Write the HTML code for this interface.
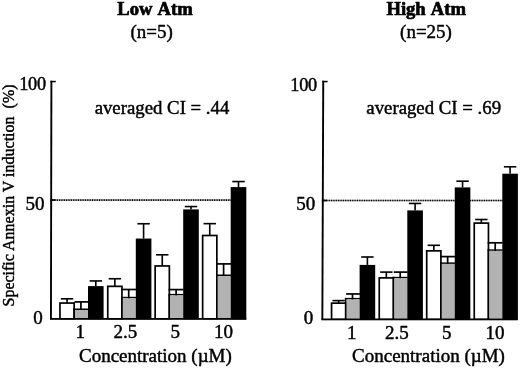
<!DOCTYPE html>
<html lang="en"><head><meta charset="utf-8"><title>Annexin V induction</title>
<style>html,body{margin:0;padding:0;background:#fff}body{width:520px;height:368px;overflow:hidden}svg{display:block}</style>
</head><body>
<svg width="520" height="368" viewBox="0 0 520 368">
<rect width="520" height="368" fill="#fff"/>
<g font-family="'Liberation Serif', serif" fill="#000" stroke="#000" stroke-width="0.45" stroke-linejoin="round">
<text x="155" y="14.7" font-size="18.6" font-weight="bold" word-spacing="1.5" stroke-width="0.7" text-anchor="middle">Low Atm</text>
<text x="151.7" y="37.8" font-size="19" text-anchor="middle">(n=5)</text>
<text x="426.2" y="14.7" font-size="18.6" font-weight="bold" word-spacing="1.5" stroke-width="0.7" text-anchor="middle">High Atm</text>
<text x="426" y="37.8" font-size="19" text-anchor="middle">(n=25)</text>
<text x="162" y="114" font-size="18.8" text-anchor="middle">averaged CI = .44</text>
<text x="433.7" y="114" font-size="18.8" text-anchor="middle">averaged CI = .69</text>
<text x="45.75" y="90.4" font-size="18.3" letter-spacing="-0.3" text-anchor="end">100</text>
<text x="316.9" y="90.6" font-size="18.3" letter-spacing="-0.3" text-anchor="end">100</text>
<text x="44.5" y="209.8" font-size="19" text-anchor="end">50</text>
<text x="315.3" y="210.1" font-size="19" text-anchor="end">50</text>
<text x="42.8" y="323.5" font-size="19" text-anchor="end">0</text>
<text x="313.3" y="323.5" font-size="19" text-anchor="end">0</text>
<text x="80.3" y="338" font-size="19" text-anchor="middle">1</text>
<text x="125.25" y="338" font-size="19" text-anchor="middle">2.5</text>
<text x="175.25" y="338" font-size="19" text-anchor="middle">5</text>
<text x="223.5" y="338" font-size="19" text-anchor="middle">10</text>
<text x="155.4" y="361.7" font-size="19" text-anchor="middle">Concentration (µM)</text>
<text x="351.8" y="338.55" font-size="19" text-anchor="middle">1</text>
<text x="396.75" y="338.55" font-size="19" text-anchor="middle">2.5</text>
<text x="446.75" y="338.55" font-size="19" text-anchor="middle">5</text>
<text x="495.0" y="338.55" font-size="19" text-anchor="middle">10</text>
<text x="428.5" y="362.25" font-size="19" text-anchor="middle">Concentration (µM)</text>
<text transform="translate(14.2 306.5) rotate(-90)" font-size="16">Specific Annexin V induction&#160; (%)</text>
</g>
<path d="M52 200.05H231" stroke="#9a9a9a" stroke-width="1.5" fill="none"/>
<path d="M52 200.05H231" stroke="#000" stroke-width="1.7" stroke-dasharray="1.15 1.2" fill="none"/>
<path d="M324 200.5H503" stroke="#9a9a9a" stroke-width="1.5" fill="none"/>
<path d="M324 200.5H503" stroke="#000" stroke-width="1.7" stroke-dasharray="1.15 1.2" fill="none"/>
<rect x="59.10" y="302.20" width="15.90" height="17.10" fill="#000"/>
<rect x="60.80" y="303.90" width="12.50" height="14.30" fill="#fff"/>
<rect x="66.25" y="298.80" width="1.60" height="4.25" fill="#000"/><rect x="60.85" y="298.00" width="12.40" height="1.60" fill="#000"/>
<rect x="73.30" y="308.50" width="1.70" height="10.80" fill="#000"/>
<rect x="73.30" y="308.50" width="15.00" height="1.50" fill="#000"/>
<rect x="75.00" y="310.00" width="13.00" height="8.20" fill="#b2b2b2"/>
<rect x="80.05" y="301.90" width="1.70" height="8.10" fill="#000"/>
<rect x="74.49" y="301.05" width="13.81" height="1.70" fill="#000"/>
<rect x="88.00" y="286.10" width="15.60" height="33.20" fill="#000"/>
<rect x="95.00" y="280.95" width="1.60" height="5.15" fill="#000"/><rect x="89.60" y="280.15" width="12.40" height="1.60" fill="#000"/>
<rect x="106.90" y="285.50" width="15.90" height="33.80" fill="#000"/>
<rect x="108.60" y="287.20" width="12.50" height="31.00" fill="#fff"/>
<rect x="114.05" y="278.75" width="1.60" height="7.60" fill="#000"/><rect x="108.65" y="277.95" width="12.40" height="1.60" fill="#000"/>
<rect x="121.10" y="296.80" width="1.70" height="22.50" fill="#000"/>
<rect x="121.10" y="296.80" width="15.00" height="1.50" fill="#000"/>
<rect x="122.80" y="298.30" width="13.00" height="19.90" fill="#b2b2b2"/>
<rect x="127.85" y="289.50" width="1.70" height="8.80" fill="#000"/>
<rect x="121.10" y="288.65" width="15.00" height="1.70" fill="#000"/>
<rect x="135.80" y="238.55" width="15.60" height="80.75" fill="#000"/>
<rect x="142.80" y="223.75" width="1.60" height="14.80" fill="#000"/><rect x="137.40" y="222.95" width="12.40" height="1.60" fill="#000"/>
<rect x="154.30" y="265.10" width="15.90" height="54.20" fill="#000"/>
<rect x="156.00" y="266.80" width="12.50" height="51.40" fill="#fff"/>
<rect x="161.45" y="254.80" width="1.60" height="11.15" fill="#000"/><rect x="156.05" y="254.00" width="12.40" height="1.60" fill="#000"/>
<rect x="168.50" y="293.90" width="1.70" height="25.40" fill="#000"/>
<rect x="168.50" y="293.90" width="15.00" height="1.50" fill="#000"/>
<rect x="170.20" y="295.40" width="13.00" height="22.80" fill="#b2b2b2"/>
<rect x="175.25" y="289.60" width="1.70" height="5.80" fill="#000"/>
<rect x="168.50" y="288.75" width="15.00" height="1.70" fill="#000"/>
<rect x="183.20" y="209.40" width="15.60" height="109.90" fill="#000"/>
<rect x="190.20" y="206.55" width="1.60" height="2.85" fill="#000"/><rect x="184.80" y="205.75" width="12.40" height="1.60" fill="#000"/>
<rect x="201.80" y="234.65" width="15.90" height="84.65" fill="#000"/>
<rect x="203.50" y="236.35" width="12.50" height="81.85" fill="#fff"/>
<rect x="208.95" y="223.65" width="1.60" height="11.85" fill="#000"/><rect x="203.55" y="222.85" width="12.40" height="1.60" fill="#000"/>
<rect x="216.00" y="274.50" width="1.70" height="44.80" fill="#000"/>
<rect x="216.00" y="274.50" width="15.00" height="1.50" fill="#000"/>
<rect x="217.70" y="276.00" width="13.00" height="42.20" fill="#b2b2b2"/>
<rect x="222.75" y="263.90" width="1.70" height="12.10" fill="#000"/>
<rect x="216.00" y="263.05" width="15.00" height="1.70" fill="#000"/>
<rect x="230.70" y="187.10" width="15.60" height="132.20" fill="#000"/>
<rect x="237.70" y="181.55" width="1.60" height="5.55" fill="#000"/><rect x="232.30" y="180.75" width="12.40" height="1.60" fill="#000"/>
<rect x="330.70" y="302.30" width="15.90" height="17.50" fill="#000"/>
<rect x="332.40" y="304.00" width="12.50" height="14.70" fill="#fff"/>
<rect x="337.85" y="300.60" width="1.60" height="2.55" fill="#000"/><rect x="332.45" y="299.80" width="12.40" height="1.60" fill="#000"/>
<rect x="344.90" y="297.90" width="1.70" height="21.90" fill="#000"/>
<rect x="344.90" y="297.90" width="15.00" height="1.50" fill="#000"/>
<rect x="346.60" y="299.40" width="13.00" height="19.30" fill="#b2b2b2"/>
<rect x="351.65" y="293.95" width="1.70" height="5.45" fill="#000"/>
<rect x="346.09" y="293.10" width="13.81" height="1.70" fill="#000"/>
<rect x="359.60" y="264.90" width="15.60" height="54.90" fill="#000"/>
<rect x="366.60" y="257.00" width="1.60" height="7.90" fill="#000"/><rect x="361.20" y="256.20" width="12.40" height="1.60" fill="#000"/>
<rect x="378.40" y="277.05" width="15.90" height="42.75" fill="#000"/>
<rect x="380.10" y="278.75" width="12.50" height="39.95" fill="#fff"/>
<rect x="385.55" y="272.10" width="1.60" height="5.80" fill="#000"/><rect x="380.15" y="271.30" width="12.40" height="1.60" fill="#000"/>
<rect x="392.60" y="276.80" width="1.70" height="43.00" fill="#000"/>
<rect x="392.60" y="276.80" width="15.00" height="1.50" fill="#000"/>
<rect x="394.30" y="278.30" width="13.00" height="40.40" fill="#b2b2b2"/>
<rect x="399.35" y="272.10" width="1.70" height="6.20" fill="#000"/>
<rect x="393.79" y="271.25" width="13.81" height="1.70" fill="#000"/>
<rect x="407.30" y="210.40" width="15.60" height="109.40" fill="#000"/>
<rect x="414.30" y="203.45" width="1.60" height="6.95" fill="#000"/><rect x="408.90" y="202.65" width="12.40" height="1.60" fill="#000"/>
<rect x="425.85" y="250.00" width="15.90" height="69.80" fill="#000"/>
<rect x="427.55" y="251.70" width="12.50" height="67.00" fill="#fff"/>
<rect x="433.00" y="245.30" width="1.60" height="5.55" fill="#000"/><rect x="427.60" y="244.50" width="12.40" height="1.60" fill="#000"/>
<rect x="440.05" y="262.40" width="1.70" height="57.40" fill="#000"/>
<rect x="440.05" y="262.40" width="15.00" height="1.50" fill="#000"/>
<rect x="441.75" y="263.90" width="13.00" height="54.80" fill="#b2b2b2"/>
<rect x="446.80" y="256.60" width="1.70" height="7.30" fill="#000"/>
<rect x="440.05" y="255.75" width="15.00" height="1.70" fill="#000"/>
<rect x="454.75" y="187.40" width="15.60" height="132.40" fill="#000"/>
<rect x="461.75" y="181.20" width="1.60" height="6.20" fill="#000"/><rect x="456.35" y="180.40" width="12.40" height="1.60" fill="#000"/>
<rect x="473.40" y="222.25" width="15.90" height="97.55" fill="#000"/>
<rect x="475.10" y="223.95" width="12.50" height="94.75" fill="#fff"/>
<rect x="480.55" y="219.50" width="1.60" height="3.60" fill="#000"/><rect x="475.15" y="218.70" width="12.40" height="1.60" fill="#000"/>
<rect x="487.60" y="249.35" width="1.70" height="70.45" fill="#000"/>
<rect x="487.60" y="249.35" width="15.00" height="1.50" fill="#000"/>
<rect x="489.30" y="250.85" width="13.00" height="67.85" fill="#b2b2b2"/>
<rect x="494.35" y="242.80" width="1.70" height="8.05" fill="#000"/>
<rect x="487.60" y="241.95" width="15.00" height="1.70" fill="#000"/>
<rect x="502.30" y="173.70" width="15.60" height="146.10" fill="#000"/>
<rect x="509.30" y="166.80" width="1.60" height="6.90" fill="#000"/><rect x="503.90" y="166.00" width="12.40" height="1.60" fill="#000"/>
<polygon points="50.45,80.8 52.35,80.8 51.9,319.3 50.0,319.3" fill="#000"/>
<rect x="50.45" y="80.80" width="5.30" height="1.50" fill="#000"/>
<rect x="50.00" y="318.00" width="196.30" height="1.80" fill="#000"/>
<rect x="50.23" y="199.25" width="5.20" height="1.60" fill="#000"/>
<polygon points="322.3,80.8 324.2,80.8 323.29999999999995,319.8 321.4,319.8" fill="#000"/>
<rect x="322.30" y="80.80" width="5.30" height="1.50" fill="#000"/>
<rect x="321.40" y="318.50" width="196.20" height="1.80" fill="#000"/>
<rect x="321.85" y="199.70" width="5.20" height="1.60" fill="#000"/>
</svg>
</body></html>
